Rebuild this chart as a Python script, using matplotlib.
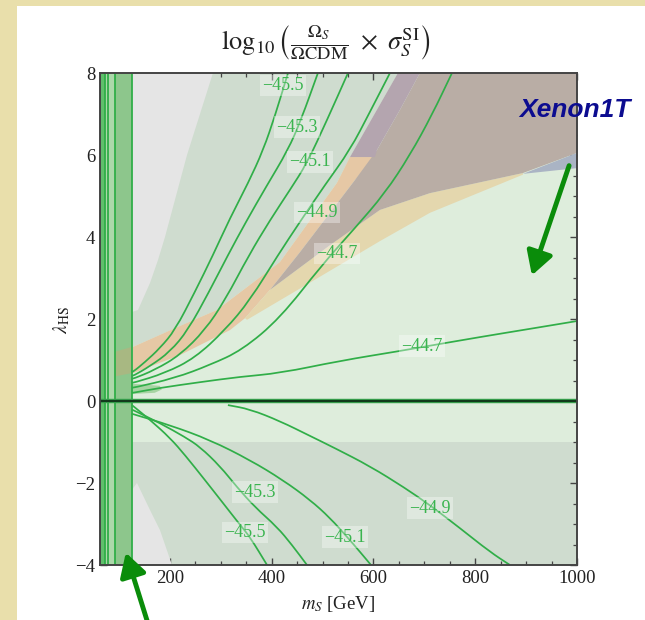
import matplotlib
matplotlib.use("Agg")
import matplotlib.pyplot as plt
from matplotlib.patches import Polygon, Rectangle, FancyArrowPatch, PathPatch
from matplotlib.path import Path

plt.rcParams["mathtext.fontset"] = "stix"
plt.rcParams["font.family"] = ["Liberation Serif", "DejaVu Serif"]

# ---- axis ranges -------------------------------------------------------
m_range = (62.5, 1000.0)
lam_range = (-4.0, 8.0)

# ---- shaded regions (m_S [GeV], lambda_HS) ------------------------------
grey_top_m = [125, 284.5, 233.5, 190.2, 176.5, 160.8, 137.2, 125]
grey_top_l = [8.0, 8.0, 6.0, 4.0, 3.44, 2.88, 2.22, 2.17]

greygreen_top_m = [125, 648, 554, 528, 416, 292, 220, 127, 125]
greygreen_top_l = [8.0, 8.0, 5.95, 5.32, 3.39, 2.22, 1.83, 1.32, 1.32]

greygreen_low_m = [125, 1000, 1000, 125]
greygreen_low_l = [-1.0, -1.0, -4.0, -4.0]

grey_low_m = [125, 135.2, 160.8, 180.4, 204, 125]
grey_low_l = [-2.17, -2.0, -2.66, -3.15, -4.0, -4.0]

orange_m = [127.4, 219.7, 292.4, 416.2, 528.2, 553.8, 602.9, 563.6, 514.5,
            455.5, 396.6, 347.5, 318, 219.7, 127.4]
orange_l = [1.32, 1.83, 2.22, 3.39, 5.32, 5.95, 5.95, 5.39, 4.59,
            3.63, 2.71, 2.02, 1.73, 1.12, 0.68]

# part of the same band seen through the low-mass strip
orange_low_m = [92.0, 125.0, 125.0, 92.0]
orange_low_l = [1.2, 1.32, 0.68, 0.6]

yellow_m = [893.7, 711, 612.7, 514.5, 396.6, 347.5, 351.4, 481, 612.7, 711, 893.7]
yellow_l = [5.56, 5.07, 4.66, 3.8, 2.71, 2.02, 1.98, 2.93, 3.9, 4.59, 5.52]

brown_m = [691.3, 1000, 1000, 893.7, 711, 612.7, 514.5, 396.6, 455.5,
           514.5, 563.6, 606.8, 652]
brown_l = [8.0, 8.0, 6.05, 5.56, 5.07, 4.66, 3.8, 2.71, 3.63,
           4.59, 5.39, 6.12, 7.1]

purple_m = [648, 691.3, 652, 606.8, 602.9, 553.8]
purple_l = [8.0, 8.0, 7.1, 6.12, 5.95, 5.95]

blue_m = [1000, 1000, 893.7]
blue_l = [6.05, 5.68, 5.54]

blob_m = [125, 170, 184, 180, 150, 125]
blob_l = [0.17, 0.2, 0.28, 0.37, 0.4, 0.42]

# low-mass band edges
band_edges = [62.5, 72.3, 78.2, 92.0, 125.0]

# ---- contour curves ----------------------------------------------------
up_455_m = [125.0, 127.4, 151, 180.4, 210, 249, 284.6, 318, 353.8, 383.3, 407, 432]
up_455_l = [0.72, 0.71, 0.95, 1.29, 1.73, 2.66, 3.56, 4.46, 5.32, 6.12, 6.98, 8.0]

up_453_m = [125.0, 127.4, 160.8, 200, 235.5, 276.7, 314, 349.4, 388.7, 431.9, 457.4, 490.8]
up_453_l = [0.62, 0.61, 0.85, 1.2, 1.73, 2.66, 3.56, 4.37, 5.22, 6.12, 6.85, 8.0]

up_451_m = [125.0, 127.4, 170.6, 219.7, 268.9, 308.2, 355.3, 396.6, 435.9, 469.3, 508.6, 549.9]
up_451_l = [0.55, 0.54, 0.76, 1.12, 1.73, 2.46, 3.56, 4.41, 5.15, 5.8, 6.85, 8.0]

up_449_m = [125.0, 127.4, 190.3, 249.2, 308.2, 357.3, 412.3, 455.5, 504.6, 553.8, 593, 632.4]
up_449_l = [0.45, 0.44, 0.68, 1.05, 1.73, 2.46, 3.56, 4.37, 5.27, 6.12, 7.05, 8.0]

up_447_m = [125.0, 127.4, 209.9, 278.7, 341.6, 416.3, 498.8, 563.7, 622.6, 671.8, 715, 754.3]
up_447_l = [0.33, 0.32, 0.56, 0.88, 1.24, 2.02, 3.32, 4.22, 5.07, 6.0, 6.98, 8.0]

flat_447_m = [125.0, 127.4, 180.4, 259, 337.6, 416.3, 534.2, 652.1, 697.3, 809.3, 907.6, 1000]
flat_447_l = [0.2, 0.2, 0.32, 0.46, 0.59, 0.68, 0.98, 1.22, 1.32, 1.56, 1.76, 1.95]

low_455_m = [125.0, 127.4, 160.8, 200.1, 229.6, 268.9, 304.3, 337.7, 357.4, 390.8]
low_455_l = [-0.1, -0.12, -0.46, -0.9, -1.32, -1.93, -2.49, -3.02, -3.32, -4.0]

low_453_m = [125.0, 127.4, 180.4, 229.6, 259, 298.4, 331.7, 367.1, 410.3, 439.8, 469.3]
low_453_l = [-0.21, -0.22, -0.54, -0.88, -1.12, -1.59, -2.1, -2.59, -3.07, -3.51, -4.0]

low_451_m = [125.0, 127.4, 200.1, 278.7, 357.3, 422.2, 475.2, 514.5, 549.9, 573.5, 595.1]
low_451_l = [-0.31, -0.32, -0.59, -0.95, -1.44, -1.93, -2.41, -2.85, -3.34, -3.68, -4.0]

low_449_m = [313.9, 357.1, 416.1, 475, 524.2, 593, 661.8, 710.9, 769.9, 828.9, 868.2]
low_449_l = [-0.1, -0.2, -0.49, -0.85, -1.15, -1.59, -2.12, -2.54, -3.1, -3.68, -4.0]

curves = [
    (-45.5, up_455_m, up_455_l, (422, 7.7)),
    (-45.3, up_453_m, up_453_l, (450, 6.68)),
    (-45.1, up_451_m, up_451_l, (475, 5.83)),
    (-44.9, up_449_m, up_449_l, (489, 4.59)),
    (-44.7, up_447_m, up_447_l, (528, 3.59)),
    (-44.7, flat_447_m, flat_447_l, (695, 1.34)),
    (-45.5, low_455_m, low_455_l, (347.5, -3.2)),
    (-45.3, low_453_m, low_453_l, (367, -2.22)),
    (-45.1, low_451_m, low_451_l, (544, -3.32)),
    (-44.9, low_449_m, low_449_l, (711, -2.61)),
]

# ---- colours -----------------------------------------------------------
c_bg = "#e9dfab"
c_lightgreen = "#deeddc"
c_greygreen = "#cfdccf"
c_grey = "#e5e5e5"
c_orange = "#e6c8a5"
c_yellow = "#e4d7ae"
c_brown = "#b9ada5"
c_purple = "#b4a5af"
c_blue = "#aab4c4"
c_line = "#30ae48"
c_label = "#3ab44f"

W, H = 645, 620
fig = plt.figure(figsize=(W / 100, H / 100), dpi=100, facecolor=c_bg)
fig.patches.append(Rectangle((17 / W, 0), 1 - 17 / W, 1 - 6 / H,
                             transform=fig.transFigure, facecolor="white",
                             edgecolor="none", zorder=-10))

ax = fig.add_axes([100 / W, 1 - 565 / H, 477 / W, 492 / H])
ax.set_xlim(*m_range)
ax.set_ylim(*lam_range)
ax.set_facecolor(c_lightgreen)


def poly(ms, ls, color, z, alpha=1.0):
    ax.add_patch(Polygon(list(zip(ms, ls)), closed=True, facecolor=color,
                         edgecolor="none", zorder=z, alpha=alpha))


def smooth_curve(ms, ls, **kw):
    """Draw a traced curve as a chain of quadratic Bezier pieces,
    using the traced points as control points."""
    pts = list(zip(ms, ls))
    verts = [pts[0]]
    codes = [Path.MOVETO]
    mids = [((a[0] + b[0]) / 2, (a[1] + b[1]) / 2) for a, b in zip(pts[:-1], pts[1:])]
    verts.append(mids[0])
    codes.append(Path.LINETO)
    for i in range(1, len(pts) - 1):
        verts += [pts[i], mids[i]]
        codes += [Path.CURVE3, Path.CURVE3]
    verts.append(pts[-1])
    codes.append(Path.LINETO)
    ax.add_patch(PathPatch(Path(verts, codes), facecolor="none", **kw))


poly(greygreen_top_m, greygreen_top_l, c_greygreen, 1)
poly(greygreen_low_m, greygreen_low_l, c_greygreen, 1)
poly(grey_top_m, grey_top_l, c_grey, 2)
poly(grey_low_m, grey_low_l, c_grey, 2)
poly(orange_m, orange_l, c_orange, 3)
poly(yellow_m, yellow_l, c_yellow, 3)
poly(brown_m, brown_l, c_brown, 4)
poly(purple_m, purple_l, c_purple, 4)
poly(blue_m, blue_l, c_blue, 4)
poly(blob_m, blob_l, "#a6d4a2", 4)

# low-mass vertical band
ax.axvspan(band_edges[0], band_edges[1], color="#5fbf6b", zorder=5, lw=0)
ax.axvspan(band_edges[1], band_edges[3], color="#acd8aa", zorder=5, lw=0)
ax.axvspan(band_edges[3], band_edges[4], color="#8dc68c", zorder=5, lw=0)
poly(orange_low_m, orange_low_l, "#c9a878", 5.5, alpha=0.45)
for e in band_edges[1:]:
    ax.axvline(e, color=c_line, lw=1.3, zorder=6)

# contour lines with inline labels
for level, ms, ls, (lm, ll) in curves:
    smooth_curve(ms, ls, edgecolor=c_line, lw=1.25, zorder=7, capstyle="butt")
    ax.text(lm, ll, f"{level:.1f}".replace("-", "\u2212"), color=c_label,
            fontsize=13, ha="center", va="center", zorder=8,
            bbox=dict(boxstyle="square,pad=0.12", facecolor="white",
                      alpha=0.35, edgecolor="none"))

# lambda_HS = 0
ax.axhline(0.0, color="#3aa850", lw=3.2, zorder=7)
ax.axhline(0.0, color="#123a1c", lw=1.6, zorder=7)

# ticks / frame
ax.set_xticks([200, 400, 600, 800, 1000])
ax.set_xticks(list(range(100, 1001, 50)), minor=True)
ax.set_yticks([-4, -2, 0, 2, 4, 6, 8])
ax.set_yticks([v / 2 for v in range(-8, 17)], minor=True)
ax.tick_params(which="both", direction="in", top=True, right=True,
               color="#444444", labelsize=13.5, labelcolor="#222222")
ax.tick_params(which="major", length=5, width=1.0)
ax.tick_params(which="minor", length=3, width=0.9)
ax.set_yticklabels([f"{v}".replace("-", "\u2212") for v in [-4, -2, 0, 2, 4, 6, 8]])
for s in ax.spines.values():
    s.set_color("#444444")
    s.set_linewidth(1.4)
    s.set_zorder(10)

fig.text(326 / W, 1 - 43 / H,
         r"$\log_{10}\left(\frac{\Omega_S}{\Omega\mathrm{CDM}}\ \times\ \sigma_S^{\mathrm{SI}}\right)$",
         ha="center", va="center", fontsize=19, color="#222222")
fig.text(338 / W, 1 - 604 / H, r"$m_S$ [GeV]", ha="center", va="center",
         fontsize=13.5, color="#222222")
fig.text(62 / W, 1 - 320 / H, r"$\lambda_{\rm HS}$", ha="center", va="center",
         rotation=90, fontsize=14, color="#222222")

fig.text(575 / W, 1 - 110 / H, "Xenon1T", ha="center", va="center",
         fontsize=19, fontweight="bold", style="italic", color="#0c0c90",
         family=["Liberation Sans", "DejaVu Sans"])

for tail, head in [((570, 163), (531, 278)), ((150, 630), (125, 550))]:
    fig.add_artist(FancyArrowPatch(
        (tail[0] / W, 1 - tail[1] / H), (head[0] / W, 1 - head[1] / H),
        transform=fig.transFigure, arrowstyle="-|>,head_length=0.7,head_width=0.4",
        mutation_scale=20, color="#0a8c0a", lw=3.5, zorder=20))

fig.savefig("out.png", dpi=100, facecolor=c_bg)
